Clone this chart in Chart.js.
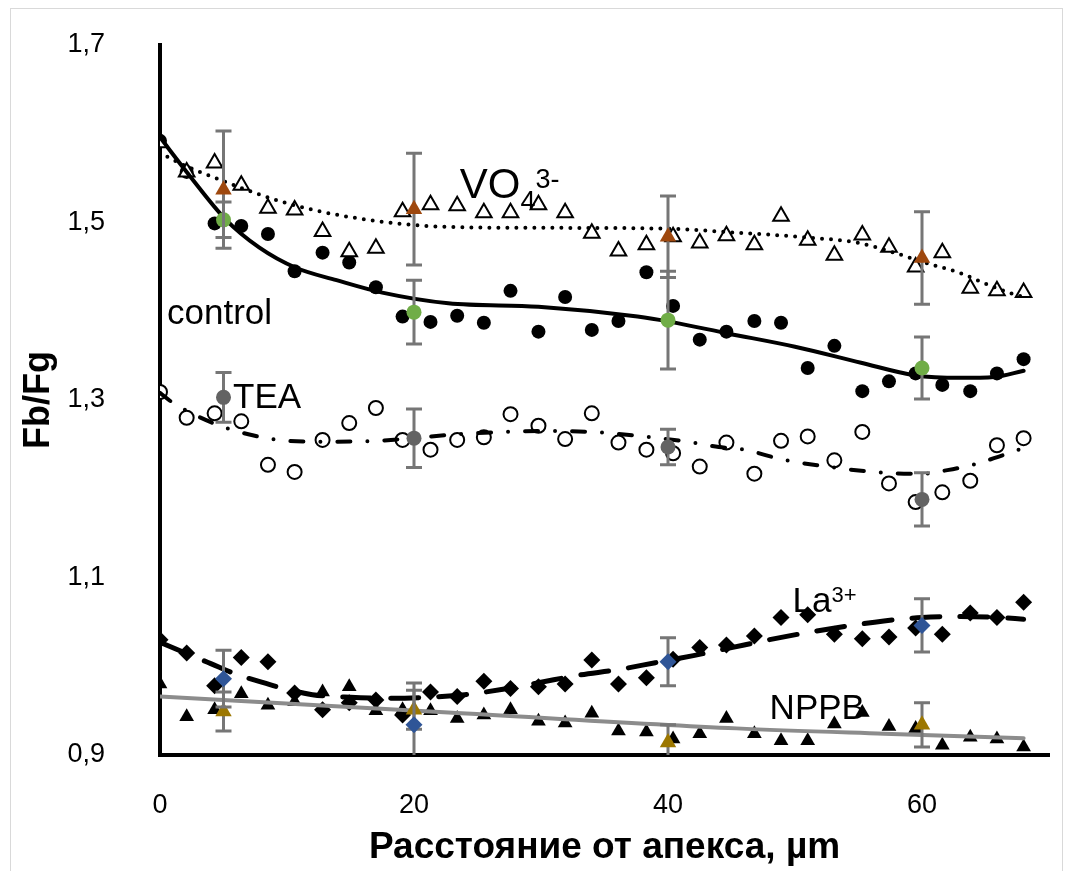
<!DOCTYPE html>
<html>
<head>
<meta charset="utf-8">
<script src="https://cdn.jsdelivr.net/npm/chart.js@4.4.1/dist/chart.umd.min.js"></script>
<style>
  html, body { margin: 0; padding: 0; background: #fff; }
  #wrap { width: 1072px; height: 871px; }
</style>
</head>
<body>
<div id="wrap"><canvas id="chart" width="1072" height="871"></canvas></div>
<script>
// distance from apex, µm
const distance = [0, 2.1, 4.3, 6.4, 8.5, 10.6, 12.8, 14.9, 17.0, 19.1, 21.3, 23.4, 25.5, 27.6, 29.8, 31.9,
  34.0, 36.1, 38.3, 40.4, 42.5, 44.6, 46.8, 48.9, 51.0, 53.1, 55.3, 57.4, 59.5, 61.6, 63.8, 65.9, 68.0];

// Fb/Fg profiles
const vo4 = [1.590, 1.557, 1.567, 1.542, 1.516, 1.514, 1.490, 1.467, 1.471, 1.512, 1.520, 1.519, 1.511, 1.511, 1.520, 1.511,
  1.488, 1.468, 1.475, 1.484, 1.477, 1.485, 1.475, 1.507, 1.480, 1.463, 1.486, 1.472, 1.450, 1.466, 1.426, 1.423, 1.421];
const control = [1.592, 1.557, 1.499, 1.496, 1.487, 1.445, 1.466, 1.455, 1.427, 1.394, 1.388, 1.395, 1.387, 1.423, 1.377, 1.416,
  1.379, 1.389, 1.444, 1.406, 1.368, 1.377, 1.389, 1.387, 1.336, 1.361, 1.310, 1.321, 1.330, 1.317, 1.310, 1.330, 1.346];
const tea = [1.309, 1.280, 1.285, 1.276, 1.227, 1.219, 1.255, 1.274, 1.291, 1.255, 1.244, 1.255, 1.258, 1.284, 1.271, 1.256,
  1.285, 1.252, 1.244, 1.240, 1.225, 1.252, 1.217, 1.254, 1.259, 1.232, 1.264, 1.206, 1.185, 1.196, 1.209, 1.249, 1.257];
const la = [1.030, 1.015, 0.978, 1.010, 1.005, 0.970, 0.951, 0.959, 0.962, 0.945, 0.971, 0.966, 0.983, 0.975, 0.977, 0.980,
  1.007, 0.980, 0.987, 1.008, 1.021, 1.024, 1.034, 1.055, 1.058, 1.036, 1.031, 1.033, 1.043, 1.036, 1.060, 1.055, 1.072];
const nppb = [0.980, 0.943, 0.951, 0.969, 0.956, 0.960, 0.971, 0.977, 0.950, 0.951, 0.950, 0.941, 0.945, 0.951, 0.938, 0.936,
  0.947, 0.927, 0.926, 0.918, 0.924, 0.941, 0.924, 0.916, 0.916, 0.935, 0.948, 0.932, 0.930, 0.911, 0.920, 0.918, 0.909];

// means with error bars
const meanX = [5, 20, 40, 60];
const vo4Mean = [1.537, 1.515, 1.484, 1.460];
const vo4Err = [0.066, 0.063, 0.046, 0.052];
const controlMean = [1.503, 1.399, 1.390, 1.336];
const controlErr = [0.020, 0.036, 0.055, 0.035];
const teaMean = [1.303, 1.257, 1.247, 1.188];
const teaErr = [0.028, 0.033, 0.020, 0.030];
const laMean = [0.986, 0.934, 1.005, 1.046];
const laErr = [0.032, 0.047, 0.027, 0.030];
const nppbMean = [0.949, 0.951, 0.914, 0.934];
const nppbErr = [0.022, 0.022, 0.020, 0.025];

// trend lines
const vo4TrendX = [0, 0.6, 5.3, 9.7, 15, 22.7, 30, 40, 44.9, 51.1, 55, 57.8, 60.2, 63, 65.7, 67.5, 68];
const vo4TrendY = [1.580, 1.574, 1.545, 1.523, 1.506, 1.495, 1.494, 1.493, 1.489, 1.483, 1.477, 1.466, 1.455, 1.443, 1.427, 1.418, 1.416];
const controlTrendX = [0, 2.1, 5.2, 7.8, 10.7, 13.9, 17.5, 22.7, 29.8, 37.6, 40.2, 44.7, 50, 55.2, 59.4, 63, 65.7, 68];
const controlTrendY = [1.596, 1.557, 1.503, 1.472, 1.449, 1.435, 1.421, 1.409, 1.405, 1.394, 1.388, 1.375, 1.360, 1.342, 1.328, 1.325, 1.326, 1.333];
const teaTrendX = [0, 1, 4, 6, 8, 10, 13, 17, 20, 23, 27, 30, 34, 38, 42, 44, 46, 49, 53, 57, 60, 62, 64, 66, 68];
const teaTrendY = [1.308, 1.297, 1.275, 1.265, 1.258, 1.254, 1.253, 1.254, 1.257, 1.261, 1.264, 1.265, 1.264, 1.259, 1.252, 1.247,
  1.244, 1.233, 1.224, 1.218, 1.217, 1.221, 1.227, 1.236, 1.246];
const laTrendX = [0, 2, 4, 6, 8, 10, 12, 15, 18, 21, 24, 27, 30, 33, 36, 39, 42, 45, 48, 51, 54, 57, 60, 63, 66, 68];
const laTrendY = [1.027, 1.015, 1.003, 0.991, 0.982, 0.974, 0.968, 0.965, 0.964, 0.965, 0.968, 0.974, 0.982, 0.990, 0.996, 1.004,
  1.012, 1.021, 1.030, 1.038, 1.045, 1.051, 1.055, 1.056, 1.055, 1.053];
const nppbTrendX = [0, 22.7, 45.4, 57, 68];
const nppbTrendY = [0.966, 0.948, 0.930, 0.924, 0.919];

const xTicks = [0, 20, 40, 60];
const yTicks = [0.9, 1.1, 1.3, 1.5, 1.7];

const FONT = "'Liberation Sans', Arial, sans-serif";
Chart.defaults.font.family = FONT;

const pts = (xs, ys) => xs.map((x, i) => ({ x: x, y: ys[i] }));

function markers(xs, ys, style, r, fill, stroke, bw) {
  return {
    data: pts(xs, ys), showLine: false, pointStyle: style, pointRadius: r,
    pointBackgroundColor: fill, pointBorderColor: stroke, pointBorderWidth: bw
  };
}
function meanSet(ys, errs, style, r, color) {
  const d = markers(meanX, ys, style, r, color, color, 0);
  d.errors = errs;
  return d;
}
function trend(xs, ys, color, width, dash) {
  return {
    data: pts(xs, ys), showLine: true, pointRadius: 0, borderColor: color, borderWidth: width,
    borderDash: dash, borderCapStyle: 'round', cubicInterpolationMode: 'monotone'
  };
}

// error bars, drawn just before the mean markers of each series
const errorBars = {
  id: 'errorBars',
  beforeDatasetDraw(chart, args) {
    const ds = chart.data.datasets[args.index];
    if (!ds.errors) return;
    const { ctx, chartArea, scales: { x, y } } = chart;
    ctx.save();
    ctx.beginPath();
    ctx.rect(chartArea.left, chartArea.top, chartArea.right - chartArea.left, chartArea.bottom - chartArea.top);
    ctx.clip();
    ctx.strokeStyle = '#767676';
    ctx.lineWidth = 3;
    ds.data.forEach((p, i) => {
      const px = x.getPixelForValue(p.x);
      const top = y.getPixelForValue(p.y + ds.errors[i]);
      const bot = y.getPixelForValue(p.y - ds.errors[i]);
      ctx.beginPath();
      ctx.moveTo(px, top); ctx.lineTo(px, bot);
      ctx.moveTo(px - 8, top); ctx.lineTo(px + 8, top);
      ctx.moveTo(px - 8, bot); ctx.lineTo(px + 8, bot);
      ctx.stroke();
    });
    ctx.restore();
  }
};

// series names written next to the curves (data coordinates)
const seriesLabels = [
  { parts: [['VO', 42, 0], ['4', 27, 12], ['3-', 27, -10]], x: 23.6, y: 1.528 },
  { parts: [['control', 35, 0]], x: 0.55, y: 1.386 },
  { parts: [['TEA', 35, 0]], x: 5.75, y: 1.291 },
  { parts: [['La', 35, 0], ['3+', 22, -10]], x: 49.8, y: 1.061 },
  { parts: [['NPPB', 35, 0]], x: 48.0, y: 0.9406 }
];
const labelPlugin = {
  id: 'seriesLabels',
  beforeDraw(chart) {
    const ctx = chart.ctx;
    ctx.save();
    ctx.strokeStyle = '#d9d9d9';
    ctx.lineWidth = 1;
    ctx.strokeRect(10.5, 8.5, 1052, 880);
    ctx.restore();
  },
  afterDraw(chart) {
    const { ctx, scales: { x, y } } = chart;
    ctx.save();
    ctx.fillStyle = '#000';
    ctx.textBaseline = 'alphabetic';
    ctx.textAlign = 'left';
    seriesLabels.forEach(l => {
      let px = x.getPixelForValue(l.x);
      const py = y.getPixelForValue(l.y);
      let prevSub = null;
      l.parts.forEach(([t, size, dy], i) => {
        ctx.font = size + 'px ' + FONT;
        // sub- and superscript: the superscript follows the subscript
        let startX = px;
        if (i === 2 && prevSub !== null) startX = prevSub;
        ctx.fillText(t, startX, py + dy);
        const w = ctx.measureText(t).width;
        if (i === 1) prevSub = px + w;
        if (i < 2) px += w;
      });
    });
    ctx.restore();
  }
};

new Chart(document.getElementById('chart'), {
  type: 'scatter',
  data: {
    datasets: [
      meanSet(vo4Mean, vo4Err, 'triangle', 9.5, '#9e480e'),
      meanSet(controlMean, controlErr, 'circle', 7.5, '#70ad47'),
      meanSet(teaMean, teaErr, 'circle', 7.5, '#636363'),
      meanSet(laMean, laErr, 'rectRot', 8.5, '#2f5597'),
      meanSet(nppbMean, nppbErr, 'triangle', 9.5, '#9c7700'),
      trend(vo4TrendX, vo4TrendY, '#000', 4, [0, 9]),
      trend(controlTrendX, controlTrendY, '#000', 4, []),
      trend(teaTrendX, teaTrendY, '#000', 4, [13, 17, 0, 17]),
      trend(laTrendX, laTrendY, '#000', 5, [28, 20]),
      trend(nppbTrendX, nppbTrendY, '#8c8c8c', 4, []),
      markers(distance, vo4, 'triangle', 9, '#fff', '#000', 2),
      markers(distance, control, 'circle', 7, '#000', '#000', 0),
      markers(distance, tea, 'circle', 7, '#fff', '#000', 2),
      markers(distance, la, 'rectRot', 8.5, '#000', '#000', 0),
      markers(distance, nppb, 'triangle', 8.5, '#000', '#000', 0)
    ]
  },
  options: {
    responsive: false,
    animation: false,
    events: [],
    layout: { autoPadding: false, padding: { left: 0, right: 23, top: 45, bottom: 0 } },
    plugins: { legend: { display: false }, tooltip: { enabled: false } },
    scales: {
      x: {
        type: 'linear', min: 0, max: 70,
        grid: { display: false, drawTicks: false },
        border: { display: true, color: '#000', width: 4 },
        afterBuildTicks: s => { s.ticks = xTicks.map(v => ({ value: v })); },
        afterFit: s => { s.height = 116; s.paddingLeft = 0; s.paddingRight = 0; },
        ticks: { color: '#000', font: { size: 27 }, padding: 34, callback: v => String(v) },
        title: {
          display: true, text: 'Расстояние от апекса, µm', color: '#000',
          font: { size: 37, weight: 'bold' }, padding: { top: 0, bottom: 1 }
        }
      },
      y: {
        type: 'linear', min: 0.9, max: 1.7,
        grid: { display: false, drawTicks: false },
        border: { display: true, color: '#000', width: 4 },
        afterBuildTicks: s => { s.ticks = yTicks.map(v => ({ value: v })); },
        afterFit: s => { s.width = 160; s.paddingTop = 0; s.paddingBottom = 0; },
        ticks: { color: '#000', font: { size: 27 }, padding: 55, callback: v => v.toFixed(1).replace('.', ',') },
        title: {
          display: true, text: 'Fb/Fg', color: '#000',
          font: { size: 36, weight: 'bold' }, padding: { top: 17, bottom: 0 }
        }
      }
    }
  },
  plugins: [errorBars, labelPlugin]
});
</script>
</body>
</html>
